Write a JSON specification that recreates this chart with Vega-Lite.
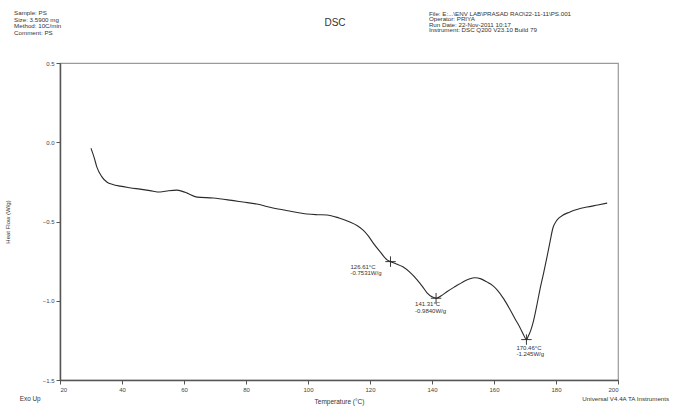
{
  "$schema": "https://vega.github.io/schema/vega-lite/v6.json",
  "width": 558,
  "height": 317,
  "autosize": "none",
  "padding": {"left": 60, "top": 63, "right": 55, "bottom": 26},
  "background": "white",
  "config": {
    "font": "Liberation Sans",
    "view": {"stroke": "#9a9a9a", "strokeWidth": 1.2}
  },
  "datasets": {
    "curve": [
      {"T": 30.0, "HF": -0.038}, {"T": 31.0, "HF": -0.095}, {"T": 31.9, "HF": -0.157},
      {"T": 33.4, "HF": -0.215}, {"T": 35.2, "HF": -0.252}, {"T": 37.0, "HF": -0.266},
      {"T": 39.4, "HF": -0.277}, {"T": 42.5, "HF": -0.287}, {"T": 45.8, "HF": -0.296},
      {"T": 49.0, "HF": -0.305}, {"T": 52.3, "HF": -0.314}, {"T": 55.0, "HF": -0.306},
      {"T": 57.7, "HF": -0.302}, {"T": 59.5, "HF": -0.31}, {"T": 61.0, "HF": -0.321},
      {"T": 64.2, "HF": -0.346}, {"T": 69.4, "HF": -0.352}, {"T": 74.8, "HF": -0.365},
      {"T": 79.0, "HF": -0.377}, {"T": 83.5, "HF": -0.39}, {"T": 88.7, "HF": -0.415},
      {"T": 94.0, "HF": -0.434}, {"T": 99.7, "HF": -0.453}, {"T": 103.0, "HF": -0.457},
      {"T": 106.1, "HF": -0.459}, {"T": 110.0, "HF": -0.478}, {"T": 113.5, "HF": -0.503},
      {"T": 115.8, "HF": -0.525}, {"T": 117.7, "HF": -0.553}, {"T": 119.5, "HF": -0.592},
      {"T": 121.0, "HF": -0.635}, {"T": 123.3, "HF": -0.692}, {"T": 125.5, "HF": -0.742},
      {"T": 126.61, "HF": -0.7531}, {"T": 128.5, "HF": -0.768}, {"T": 130.6, "HF": -0.786},
      {"T": 133.0, "HF": -0.823}, {"T": 135.2, "HF": -0.868}, {"T": 137.0, "HF": -0.912},
      {"T": 138.4, "HF": -0.95}, {"T": 140.0, "HF": -0.975}, {"T": 141.31, "HF": -0.984},
      {"T": 143.0, "HF": -0.968}, {"T": 144.8, "HF": -0.943}, {"T": 147.5, "HF": -0.91},
      {"T": 150.0, "HF": -0.881}, {"T": 152.0, "HF": -0.863}, {"T": 153.9, "HF": -0.855},
      {"T": 155.8, "HF": -0.862}, {"T": 157.7, "HF": -0.881}, {"T": 159.5, "HF": -0.903},
      {"T": 161.0, "HF": -0.931}, {"T": 163.2, "HF": -0.99}, {"T": 165.2, "HF": -1.057},
      {"T": 166.9, "HF": -1.118}, {"T": 168.4, "HF": -1.17}, {"T": 169.6, "HF": -1.218},
      {"T": 170.46, "HF": -1.245}, {"T": 171.0, "HF": -1.226}, {"T": 171.8, "HF": -1.19},
      {"T": 172.6, "HF": -1.138}, {"T": 173.7, "HF": -1.04}, {"T": 174.8, "HF": -0.931},
      {"T": 176.0, "HF": -0.825}, {"T": 177.1, "HF": -0.723}, {"T": 178.1, "HF": -0.625},
      {"T": 179.0, "HF": -0.541}, {"T": 180.1, "HF": -0.497}, {"T": 181.3, "HF": -0.472},
      {"T": 184.5, "HF": -0.44}, {"T": 187.0, "HF": -0.423}, {"T": 190.0, "HF": -0.409},
      {"T": 193.5, "HF": -0.396}, {"T": 196.5, "HF": -0.384}
    ],
    "peaks": [
      {"T": 126.61, "HF": -0.7531, "label": "126.61°C\n-0.7531W/g"},
      {"T": 141.31, "HF": -0.984, "label": "141.31°C\n-0.9840W/g"},
      {"T": 170.46, "HF": -1.245, "label": "170.46°C\n-1.245W/g"}
    ],
    "notes": [
      {"id": "title", "label": "DSC"},
      {"id": "sample", "label": "Sample: PS\nSize:  3.5900 mg\nMethod: 10C/min\nComment: PS"},
      {"id": "file", "label": "File: E:...\\ENV LAB\\PRASAD RAO\\22-11-11\\PS.001\nOperator: PRIYA\nRun Date: 22-Nov-2011 10:17\nInstrument: DSC Q200 V23.10 Build 79"},
      {"id": "exo", "label": "Exo Up"},
      {"id": "version", "label": "Universal V4.4A TA Instruments"}
    ]
  },
  "layer": [
    {
      "data": {"name": "curve"},
      "mark": {"type": "line", "color": "#2a2a2a", "strokeWidth": 1.1, "interpolate": "monotone"},
      "encoding": {
        "x": {
          "field": "T",
          "type": "quantitative",
          "scale": {"domain": [20, 200], "nice": false, "zero": false},
          "axis": {
            "title": "Temperature (°C)",
            "titleFontSize": 6.5,
            "titleFontWeight": "normal",
            "titleColor": "#333",
            "titlePadding": 6,
            "values": [20, 25, 30, 35, 40, 45, 50, 55, 60, 65, 70, 75, 80, 85, 90, 95, 100, 105, 110, 115, 120, 125, 130, 135, 140, 145, 150, 155, 160, 165, 170, 175, 180, 185, 190, 195, 200],
            "labelExpr": "datum.value % 20 === 0 ? datum.label : ''",
            "labelOverlap": false,
            "labelFontSize": 6,
            "labelColor": "#444",
            "labelPadding": 2,
            "grid": false,
            "domainColor": "#555",
            "domainWidth": 1.5,
            "tickColor": "#555",
            "tickSize": {"expr": "datum.value % 20 === 0 ? 4 : 2"}
          }
        },
        "y": {
          "field": "HF",
          "type": "quantitative",
          "scale": {"domain": [-1.5, 0.5], "nice": false, "zero": false},
          "axis": {
            "title": "Heat Flow (W/g)",
            "titleFontSize": 6,
            "titleFontWeight": "normal",
            "titleColor": "#333",
            "titlePadding": 32,
            "values": [-1.5, -1.375, -1.25, -1.125, -1.0, -0.875, -0.75, -0.625, -0.5, -0.375, -0.25, -0.125, 0.0, 0.125, 0.25, 0.375, 0.5],
            "format": ".1f",
            "labelExpr": "abs(datum.value * 2 - round(datum.value * 2)) < 0.001 ? datum.label : ''",
            "labelOverlap": false,
            "labelFontSize": 6,
            "labelColor": "#444",
            "labelPadding": 2,
            "grid": false,
            "domainColor": "#555",
            "domainWidth": 1.5,
            "tickColor": "#555",
            "tickSize": {"expr": "abs(datum.value * 2 - round(datum.value * 2)) < 0.001 ? 4 : 2"}
          }
        }
      }
    },
    {
      "data": {"name": "peaks"},
      "mark": {"type": "point", "shape": "M-1,0H1M0,-1V1", "size": 110, "filled": false, "stroke": "#222", "strokeWidth": 0.9, "opacity": 1},
      "encoding": {"x": {"field": "T", "type": "quantitative"}, "y": {"field": "HF", "type": "quantitative"}}
    },
    {
      "data": {"name": "peaks"},
      "transform": [{"filter": "datum.T < 130"}],
      "mark": {"type": "text", "align": "left", "baseline": "top", "dx": -40, "dy": 2, "fontSize": 6, "color": "#333", "lineBreak": "\n", "lineHeight": 6.5},
      "encoding": {"x": {"field": "T", "type": "quantitative"}, "y": {"field": "HF", "type": "quantitative"}, "text": {"field": "label"}}
    },
    {
      "data": {"name": "peaks"},
      "transform": [{"filter": "datum.T > 130 && datum.T < 150"}],
      "mark": {"type": "text", "align": "left", "baseline": "top", "dx": -21, "dy": 3, "fontSize": 6, "color": "#333", "lineBreak": "\n", "lineHeight": 6.5},
      "encoding": {"x": {"field": "T", "type": "quantitative"}, "y": {"field": "HF", "type": "quantitative"}, "text": {"field": "label"}}
    },
    {
      "data": {"name": "peaks"},
      "transform": [{"filter": "datum.T > 150"}],
      "mark": {"type": "text", "align": "left", "baseline": "top", "dx": -10, "dy": 5, "fontSize": 6, "color": "#333", "lineBreak": "\n", "lineHeight": 6.5},
      "encoding": {"x": {"field": "T", "type": "quantitative"}, "y": {"field": "HF", "type": "quantitative"}, "text": {"field": "label"}}
    },
    {
      "data": {"name": "notes"},
      "transform": [{"filter": "datum.id === 'title'"}],
      "mark": {"type": "text", "align": "center", "baseline": "middle", "fontSize": 10, "color": "#333"},
      "encoding": {
        "x": {"datum": 108.7, "type": "quantitative"},
        "y": {"datum": 0.755, "type": "quantitative"},
        "text": {"field": "label"}
      }
    },
    {
      "data": {"name": "notes"},
      "transform": [{"filter": "datum.id === 'sample'"}],
      "mark": {"type": "text", "align": "left", "baseline": "top", "fontSize": 6.2, "color": "#333", "lineBreak": "\n", "lineHeight": 6.8},
      "encoding": {
        "x": {"datum": 5.2, "type": "quantitative"},
        "y": {"datum": 0.835, "type": "quantitative"},
        "text": {"field": "label"}
      }
    },
    {
      "data": {"name": "notes"},
      "transform": [{"filter": "datum.id === 'file'"}],
      "mark": {"type": "text", "align": "left", "baseline": "top", "fontSize": 6.2, "color": "#333", "lineBreak": "\n", "lineHeight": 5.6},
      "encoding": {
        "x": {"datum": 139.0, "type": "quantitative"},
        "y": {"datum": 0.83, "type": "quantitative"},
        "text": {"field": "label"}
      }
    },
    {
      "data": {"name": "notes"},
      "transform": [{"filter": "datum.id === 'exo'"}],
      "mark": {"type": "text", "align": "left", "baseline": "middle", "fontSize": 6.4, "color": "#333"},
      "encoding": {
        "x": {"datum": 7.0, "type": "quantitative"},
        "y": {"datum": -1.623, "type": "quantitative"},
        "text": {"field": "label"}
      }
    },
    {
      "data": {"name": "notes"},
      "transform": [{"filter": "datum.id === 'version'"}],
      "mark": {"type": "text", "align": "left", "baseline": "middle", "fontSize": 6.2, "color": "#333"},
      "encoding": {
        "x": {"datum": 188.5, "type": "quantitative"},
        "y": {"datum": -1.623, "type": "quantitative"},
        "text": {"field": "label"}
      }
    }
  ]
}
